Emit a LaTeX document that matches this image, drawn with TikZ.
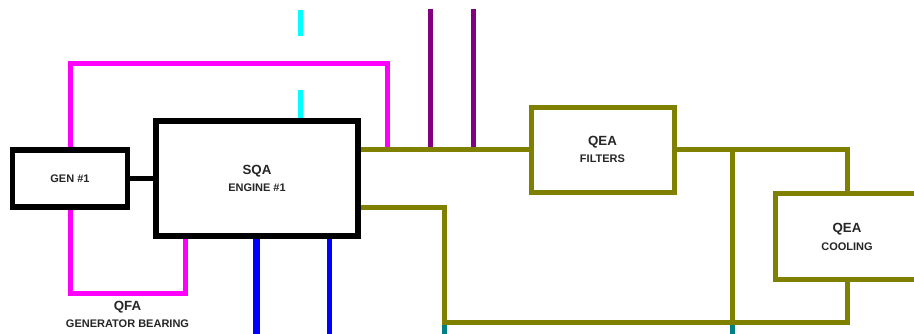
\documentclass[tikz,border=0pt]{standalone}
\usepackage{fontspec}
\setmainfont{Liberation Sans}
\definecolor{olv}{RGB}{128,128,0}
\definecolor{mag}{RGB}{255,0,255}
\definecolor{pur}{RGB}{128,0,128}
\definecolor{cyn}{RGB}{0,255,255}
\definecolor{blu}{RGB}{0,0,255}
\definecolor{tea}{RGB}{0,128,128}
\pgfdeclarelayer{bg}
\pgfsetlayers{bg,main}
\begin{document}
\begin{tikzpicture}[x=1pt,y=-1pt,
  kbox/.style={draw=black, line width=5.5pt, fill=white, inner sep=0pt},
  obox/.style={draw=olv, line width=5pt, fill=white, inner sep=0pt},
  bigtxt/.style={font=\fontsize{13.3}{16}\selectfont\bfseries, text=black!85, inner sep=0pt, anchor=base},
  smalltxt/.style={font=\fontsize{11}{13}\selectfont\bfseries, text=black!85, inner sep=0pt, anchor=base},
  magline/.style={draw=mag, line width=5pt},
  purline/.style={draw=pur, line width=5pt},
  cynline/.style={draw=cyn, line width=5pt, dash pattern=on 25.5pt off 54pt on 60pt},
  bluthick/.style={draw=blu, line width=6.5pt},
  bluthin/.style={draw=blu, line width=5pt},
  tealine/.style={draw=tea, line width=5pt},
  olvline/.style={draw=olv, line width=5pt},
  blkline/.style={draw=black, line width=5.5pt}]
\useasboundingbox (0,0) rectangle (914,333);
\clip (0,0) rectangle (914,333);

% boxes
\node[kbox, minimum width=115pt, minimum height=57pt] (gen) at (70,178.5) {};
\node[kbox, minimum width=202pt, minimum height=115pt] (sqa) at (257,178.5) {};
\node[obox, minimum width=143pt, minimum height=85.5pt] (filt) at (602.5,149.75) {};
\node[obox, minimum width=144pt, minimum height=86pt] (cool) at (847,236) {};

% texts
\node[smalltxt] (gent) at (70,182.7) {GEN \#1};
\node[bigtxt] (sqat) at (257,174) {SQA};
\node[smalltxt] (sqas) at (257,191.7) {ENGINE \#1};
\node[bigtxt] (filtt) at (602.5,145) {QEA};
\node[smalltxt] (filts) at (602.5,162.7) {FILTERS};
\node[bigtxt] (coolt) at (847,232.3) {QEA};
\node[smalltxt] (cools) at (847,250) {COOLING};
\node[bigtxt] (qfat) at (127.5,310) {QFA};
\node[smalltxt] (qfas) at (127.5,327.7) {GENERATOR BEARING};

% free ends and junctions
\coordinate (mtop) at (387,63);
\coordinate (mbot) at (185,293.5);
\coordinate (cy) at (300,10);
\coordinate (p1) at (430,9);
\coordinate (p2) at (473,9);
\coordinate (ob) at (444,322);
\coordinate (vj) at (732.5,150);
\coordinate (t1) at (444,340);
\coordinate (t2) at (732.5,340);
\coordinate (b1) at (256.7,340);
\coordinate (b2) at (329,340);

\begin{pgfonlayer}{bg}
\draw[magline] (gen.north) |- (mtop) -- (mtop |- filt.west);
\draw[magline] (gen.south) |- (mbot) -- (mbot |- sqa.south);
\draw[cynline] (cy) -- (cy |- sqa.north);
\draw[purline] (p1) -- (p1 |- filt.west);
\draw[purline] (p2) -- (p2 |- filt.west);
\draw[bluthick] (b1 |- sqa.south) -- (b1);
\draw[bluthin] (b2 |- sqa.south) -- (b2);
\draw[tealine] (ob) -- (t1);
\draw[tealine] (vj |- ob) -- (t2);
\draw[blkline] (gen.east) -- (gen.east -| sqa.west);
\draw[olvline] (sqa.east |- filt.west) -- (filt.west);
\draw[olvline] (filt.east) -| (cool.north);
\draw[olvline] (vj) -- (vj |- ob);
\draw[olvline] ([yshift=-29pt]sqa.east) -| (ob) -| (cool.south);
\end{pgfonlayer}
\end{tikzpicture}
\end{document}
